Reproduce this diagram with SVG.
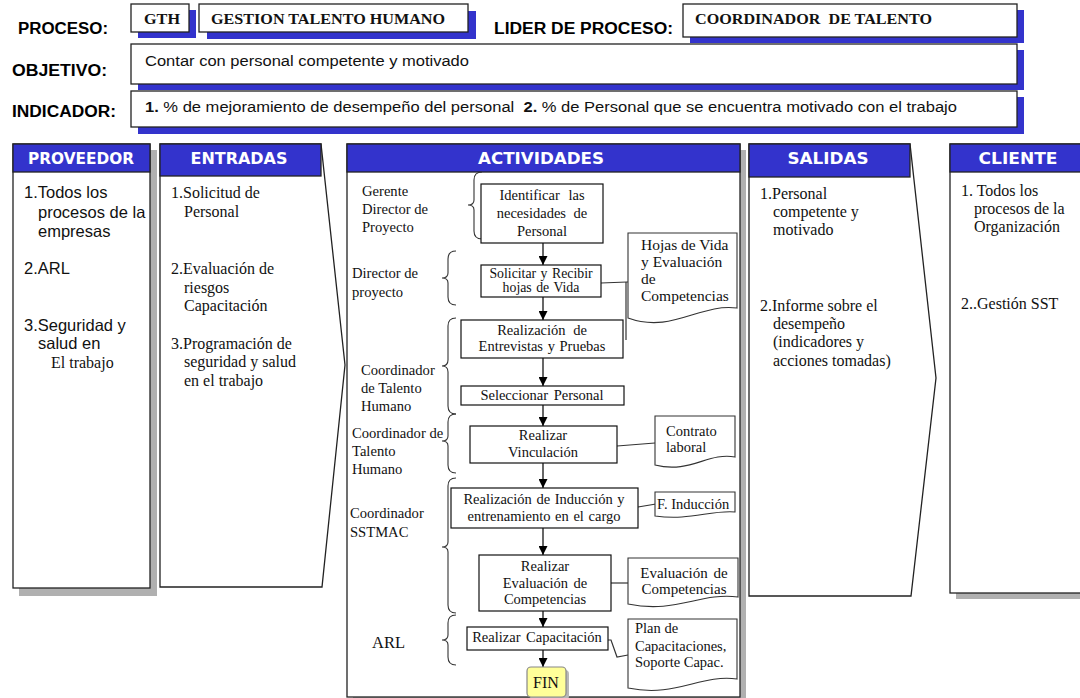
<svg xmlns="http://www.w3.org/2000/svg" width="1080" height="698" viewBox="0 0 1080 698">
  <defs>
    <marker id="arrow" viewBox="0 0 10 10" refX="10" refY="5" markerWidth="9" markerHeight="9" markerUnits="userSpaceOnUse" orient="auto">
      <path d="M0,0 L10,5 L0,10 Z" fill="#000"/>
    </marker>
  </defs>
  <style>
    .lbl { font-family: "Liberation Sans", Arial, sans-serif; font-weight: bold; font-size: 16px; fill: #000; }
    .hbox { fill: #fff; stroke: #222; stroke-width: 1.3; }
    .hshadow { fill: #3333cc; }
    .htxt { font-family: "Liberation Serif", "Times New Roman", serif; font-weight: bold; font-size: 15.5px; fill: #111; }
    .sans { font-family: "Liberation Sans", Arial, sans-serif; font-size: 15.5px; fill: #111; }
    .colhead { fill: #3333cc; stroke: #222; stroke-width: 1.3; }
    .coltitle { font-family: "DejaVu Sans", Verdana, sans-serif; font-weight: bold; font-size: 16.5px; fill: #fff; text-anchor: middle; }
    .colbody { fill: #fff; stroke: #222; stroke-width: 1.3; }
    .gshadow { fill: #b0b0b0; }
    .ser { font-family: "Liberation Serif", "Times New Roman", serif; font-size: 16px; fill: #111; }
    .role { font-family: "Liberation Serif", "Times New Roman", serif; font-size: 14.6px; fill: #111; }
    .box { fill: #fff; stroke: #111; stroke-width: 1.2; }
    .btxt { font-family: "Liberation Serif", "Times New Roman", serif; font-size: 14.5px; fill: #111; text-anchor: middle; word-spacing: 2px; }
    .doc { fill: #fff; stroke: #333; stroke-width: 1.1; }
    .dtxt { font-family: "Liberation Serif", "Times New Roman", serif; font-size: 14.5px; fill: #111; }
    .brace { fill: none; stroke: #333; stroke-width: 1.1; }
    .link { fill: none; stroke: #333; stroke-width: 1.2; }
    .flow { fill: none; stroke: #000; stroke-width: 1.2; marker-end: url(#arrow); }
  </style>

  <rect width="1080" height="698" fill="#fff"/>

  <!-- header rows -->
  <g id="header">
    <text class="lbl" x="18" y="34" textLength="90" lengthAdjust="spacingAndGlyphs">PROCESO:</text>
    <rect class="hshadow" x="138" y="10" width="58" height="28"/>
    <rect class="hbox" x="131" y="4" width="58" height="28"/>
    <text class="htxt" x="144" y="24" textLength="36" lengthAdjust="spacingAndGlyphs">GTH</text>
    <rect class="hshadow" x="207" y="11" width="269" height="28"/>
    <rect class="hbox" x="199" y="4" width="269" height="28"/>
    <text class="htxt" x="211" y="24" textLength="234" lengthAdjust="spacingAndGlyphs">GESTION TALENTO HUMANO</text>
    <text class="lbl" x="494" y="34" textLength="179" lengthAdjust="spacingAndGlyphs">LIDER DE PROCESO:</text>
    <rect class="hshadow" x="690" y="10" width="334" height="33"/>
    <rect class="hbox" x="683" y="4" width="334" height="33"/>
    <text class="htxt" x="695" y="24" textLength="237" lengthAdjust="spacingAndGlyphs" xml:space="preserve">COORDINADOR  DE TALENTO</text>

    <text class="lbl" x="12" y="76" textLength="95" lengthAdjust="spacingAndGlyphs">OBJETIVO:</text>
    <rect class="hshadow" x="138" y="50" width="886" height="40"/>
    <rect class="hbox" x="131" y="44" width="886" height="40"/>
    <text class="sans" x="145" y="66" textLength="324" lengthAdjust="spacingAndGlyphs">Contar con personal competente y motivado</text>

    <text class="lbl" x="12" y="117" textLength="104" lengthAdjust="spacingAndGlyphs">INDICADOR:</text>
    <rect class="hshadow" x="138" y="97" width="886" height="37"/>
    <rect class="hbox" x="131" y="91" width="886" height="36"/>
    <text class="sans" x="145" y="112" textLength="812" lengthAdjust="spacingAndGlyphs" xml:space="preserve"><tspan font-weight="bold">1.</tspan> % de mejoramiento de desempeño del personal  <tspan font-weight="bold">2.</tspan> % de Personal que se encuentra motivado con el trabajo</text>
  </g>

  <!-- PROVEEDOR -->
  <g id="proveedor">
    <rect class="gshadow" x="19" y="150" width="138" height="446"/>
    <rect class="colbody" x="13" y="144" width="137" height="444"/>
    <rect class="colhead" x="13" y="144" width="137" height="28"/>
    <text class="coltitle" x="81" y="164" textLength="106" lengthAdjust="spacingAndGlyphs">PROVEEDOR</text>
    <g class="sans" style="font-size:16.5px">
      <text x="24" y="198">1.Todos los</text>
      <text x="38" y="218">procesos de la</text>
      <text x="38" y="237">empresas</text>
      <text x="24" y="274">2.ARL</text>
      <text x="24" y="331">3.Seguridad y</text>
      <text x="38" y="349">salud en</text>
    </g>
    <text class="ser" x="51" y="368">El trabajo</text>
  </g>

  <!-- ENTRADAS -->
  <g id="entradas">
    <path class="colbody" d="M160,144 H321 L345,365 L322,587 H160 Z"/>
    <rect class="colhead" x="160" y="144" width="161" height="32"/>
    <text class="coltitle" x="239" y="164" textLength="97" lengthAdjust="spacingAndGlyphs">ENTRADAS</text>
    <g class="ser">
      <text x="171" y="198">1.Solicitud de</text>
      <text x="184" y="217">Personal</text>
      <text x="171" y="274">2.Evaluación de</text>
      <text x="184" y="293">riesgos</text>
      <text x="184" y="311">Capacitación</text>
      <text x="171" y="349">3.Programación de</text>
      <text x="184" y="367">seguridad y salud</text>
      <text x="184" y="386">en el trabajo</text>
    </g>
  </g>

  <!-- ACTIVIDADES frame -->
  <g id="actividades">
    <rect class="gshadow" x="353" y="150" width="393" height="548"/>
    <rect class="colbody" x="347" y="144" width="393" height="553"/>
    <rect class="colhead" x="347" y="144" width="393" height="28"/>
    <text class="coltitle" x="541" y="164" textLength="126" lengthAdjust="spacingAndGlyphs">ACTIVIDADES</text>
  </g>

  <!-- responsible roles -->
  <g id="roles" class="role">
    <text x="362" y="196">Gerente</text>
    <text x="362" y="214">Director de</text>
    <text x="362" y="232">Proyecto</text>
    <text x="352" y="278">Director de</text>
    <text x="352" y="297">proyecto</text>
    <text x="361" y="375">Coordinador</text>
    <text x="361" y="393">de Talento</text>
    <text x="361" y="411">Humano</text>
    <text x="352" y="438">Coordinador de</text>
    <text x="352" y="456">Talento</text>
    <text x="352" y="474">Humano</text>
    <text x="350" y="518">Coordinador</text>
    <text x="350" y="537">SSTMAC</text>
    <text x="372" y="648" style="font-size:16.5px">ARL</text>
  </g>

  <!-- braces grouping activities by role -->
  <g id="braces" class="brace">
    <path d="M482,172 Q474,172 474,180 V200 Q474,205 468,205 Q474,205 474,210 V231 Q474,239 482,239"/>
    <path d="M456,251 Q448,251 448,259 V273 Q448,278 442,278 Q448,278 448,283 V297 Q448,305 456,305"/>
    <path d="M456,318 Q448,318 448,326 V360 Q448,366 442,366 Q448,366 448,372 V406 Q448,414 456,414"/>
    <path d="M456,414 Q448,414 448,422 V436 Q448,441 442,441 Q448,441 448,446 V465 Q448,473 456,473"/>
    <path d="M456,478 Q448,478 448,486 V542 Q448,547 442,547 Q448,547 448,552 V605 Q448,613 456,613"/>
    <path d="M456,615 Q448,615 448,623 V635 Q448,640 442,640 Q448,640 448,645 V657 Q448,665 456,665"/>
  </g>

  <!-- connectors -->
  <g id="connectors">
    <line class="flow" x1="543" y1="243" x2="543" y2="265"/>
    <line class="flow" x1="543" y1="297" x2="543" y2="320"/>
    <line class="flow" x1="543" y1="358" x2="543" y2="386"/>
    <line class="flow" x1="543" y1="405" x2="543" y2="426"/>
    <line class="flow" x1="543" y1="463" x2="543" y2="488"/>
    <line class="flow" x1="543" y1="528" x2="543" y2="555"/>
    <line class="flow" x1="543" y1="611" x2="543" y2="627"/>
    <line class="flow" x1="543" y1="650" x2="543" y2="667"/>
    <polyline class="link" points="601,283 627,282 628,282"/>
    <line class="link" x1="626" y1="282" x2="626" y2="340"/>
    <line class="link" x1="617" y1="446" x2="655" y2="443"/>
    <line class="link" x1="638" y1="507" x2="656" y2="504"/>
    <line class="link" x1="611" y1="583" x2="628" y2="583"/>
    <polyline class="link" points="608,640 611,640 617,657 628,655"/>
  </g>

  <!-- activity boxes -->
  <g id="identificar">
    <rect class="box" x="481" y="184" width="122" height="59"/>
    <text class="btxt" x="542" y="200" style="word-spacing:5px">Identificar las</text>
    <text class="btxt" x="542" y="218" style="word-spacing:4px">necesidades de</text>
    <text class="btxt" x="542" y="236">Personal</text>
  </g>
  <g id="solicitar">
    <rect class="box" x="481" y="265" width="120" height="32"/>
    <text class="btxt" x="541" y="278" style="font-size:13.8px;word-spacing:1px">Solicitar y Recibir</text>
    <text class="btxt" x="541" y="292" style="font-size:13.8px;word-spacing:1px">hojas de Vida</text>
  </g>
  <g id="entrevistas">
    <rect class="box" x="461" y="320" width="162" height="38"/>
    <text class="btxt" x="542" y="335" style="word-spacing:4px">Realización de</text>
    <text class="btxt" x="542" y="351" style="word-spacing:1px">Entrevistas y Pruebas</text>
  </g>
  <g id="seleccionar">
    <rect class="box" x="461" y="386" width="163" height="19"/>
    <text class="btxt" x="542" y="400">Seleccionar Personal</text>
  </g>
  <g id="vinculacion">
    <rect class="box" x="470" y="426" width="147" height="37"/>
    <text class="btxt" x="543" y="440">Realizar</text>
    <text class="btxt" x="543" y="457">Vinculación</text>
  </g>
  <g id="induccion">
    <rect class="box" x="451" y="488" width="187" height="40"/>
    <text class="btxt" x="544" y="504" style="word-spacing:1px">Realización de Inducción y</text>
    <text class="btxt" x="544" y="521" style="word-spacing:1px">entrenamiento en el cargo</text>
  </g>
  <g id="evaluacion">
    <rect class="box" x="479" y="555" width="132" height="56"/>
    <text class="btxt" x="545" y="571">Realizar</text>
    <text class="btxt" x="545" y="588">Evaluación de</text>
    <text class="btxt" x="545" y="604">Competencias</text>
  </g>
  <g id="capacitacion">
    <rect class="box" x="467" y="627" width="141" height="23"/>
    <text class="btxt" x="537" y="642">Realizar Capacitación</text>
  </g>
  <g id="fin">
    <rect x="530" y="670" width="39" height="30" rx="4" fill="#b8b8b8"/>
    <rect x="527" y="667" width="39" height="30" rx="4" fill="#ffff99" stroke="#888" stroke-width="1.2"/>
    <text class="btxt" x="546" y="688" style="font-size:16px">FIN</text>
  </g>

  <!-- documents -->
  <g id="doc-hojas">
    <path class="doc" d="M628,233 H737 V308 C700,303 672,334 628,318 Z"/>
    <g class="dtxt" style="font-size:15.5px">
      <text x="641" y="250">Hojas de Vida</text>
      <text x="641" y="267">y Evaluación</text>
      <text x="641" y="284">de</text>
      <text x="641" y="301">Competencias</text>
    </g>
  </g>
  <g id="doc-contrato">
    <path class="doc" d="M655,416 H735 V457 C708,452 690,474 655,465 Z"/>
    <g class="dtxt">
      <text x="666" y="436">Contrato</text>
      <text x="666" y="452">laboral</text>
    </g>
  </g>
  <g id="doc-induccion">
    <path class="doc" d="M655,492 H735 V512 C710,510 690,521 655,516 Z"/>
    <text class="dtxt" x="657" y="509">F. Inducción</text>
  </g>
  <g id="doc-evaluacion">
    <path class="doc" d="M628,558 H738 V597 C700,592 676,614 628,604 Z"/>
    <g class="dtxt" style="font-size:15px;word-spacing:2px" text-anchor="middle">
      <text x="684" y="578">Evaluación de</text>
      <text x="684" y="594">Competencias</text>
    </g>
  </g>
  <g id="doc-capacitacion">
    <path class="doc" d="M628,619 H737 V679 C700,674 676,698 628,688 Z"/>
    <g class="dtxt">
      <text x="635" y="633">Plan de</text>
      <text x="635" y="651">Capacitaciones,</text>
      <text x="635" y="667">Soporte Capac.</text>
    </g>
  </g>

  <!-- SALIDAS -->
  <g id="salidas">
    <path class="colbody" d="M749,144 H910 L936,378 L911,596 H749 Z"/>
    <rect class="colhead" x="749" y="144" width="161" height="33"/>
    <text class="coltitle" x="828" y="164" textLength="81" lengthAdjust="spacingAndGlyphs">SALIDAS</text>
    <g class="ser">
      <text x="760" y="199">1.Personal</text>
      <text x="773" y="217">competente y</text>
      <text x="773" y="235">motivado</text>
      <text x="760" y="311">2.Informe sobre el</text>
      <text x="773" y="329">desempeño</text>
      <text x="773" y="347">(indicadores y</text>
      <text x="773" y="366">acciones tomadas)</text>
    </g>
  </g>

  <!-- CLIENTE -->
  <g id="cliente">
    <rect class="gshadow" x="956" y="150" width="130" height="449"/>
    <rect class="colbody" x="950" y="144" width="135" height="449"/>
    <rect class="colhead" x="950" y="144" width="135" height="28"/>
    <text class="coltitle" x="1018" y="164" textLength="79" lengthAdjust="spacingAndGlyphs">CLIENTE</text>
    <g class="ser">
      <text x="961" y="196">1. Todos los</text>
      <text x="974" y="214">procesos de la</text>
      <text x="974" y="232">Organización</text>
      <text x="961" y="309">2..Gestión SST</text>
    </g>
  </g>
</svg>
